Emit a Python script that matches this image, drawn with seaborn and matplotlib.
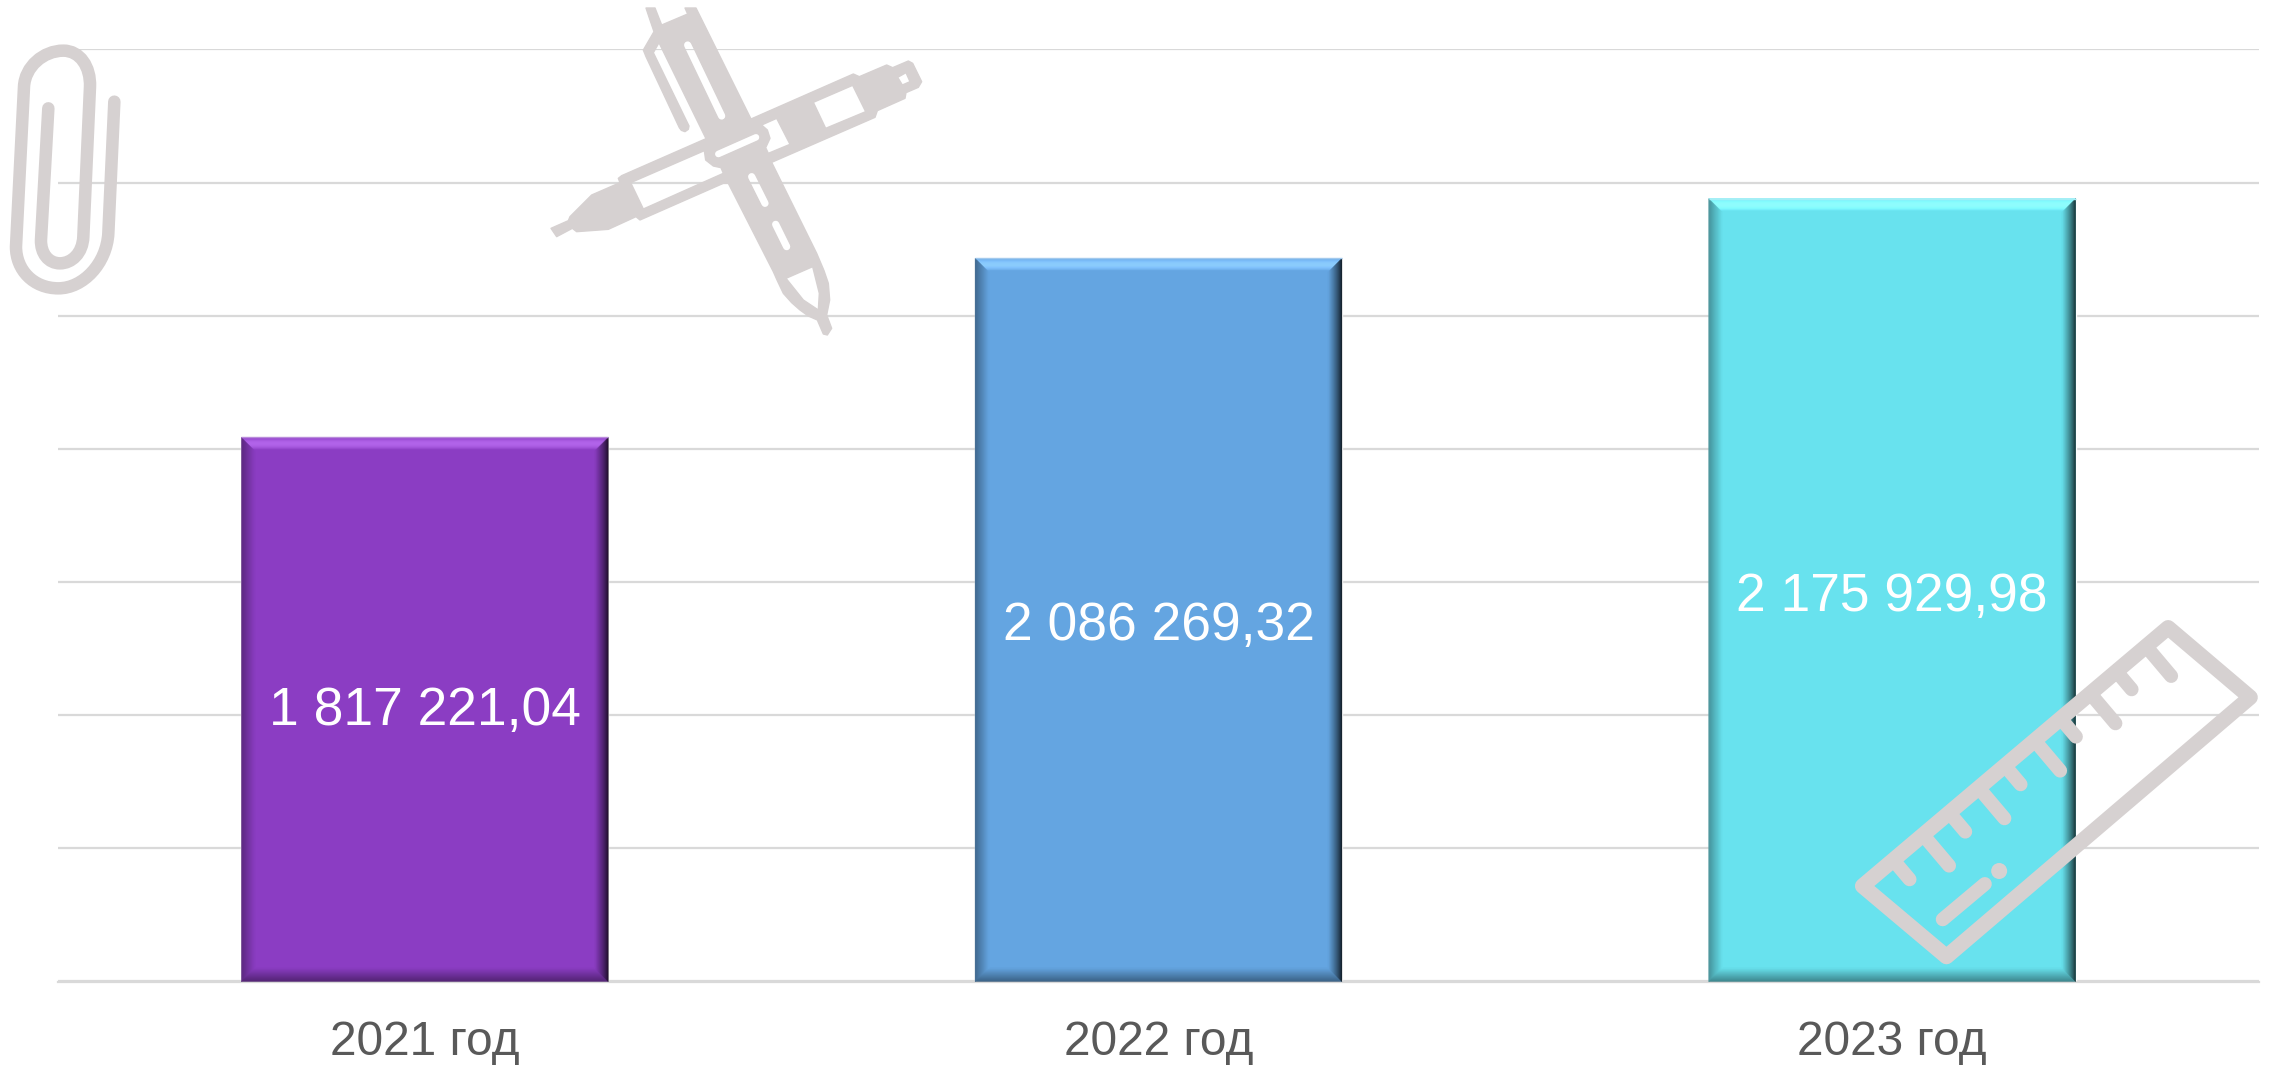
import numpy as np
import pandas as pd
import matplotlib
matplotlib.use("Agg")
import matplotlib.pyplot as plt
from matplotlib.path import Path
from matplotlib.patches import PathPatch, Circle
import seaborn as sns

years = ["2021 год", "2022 год", "2023 год"]
values = [1817221.04, 2086269.32, 2175929.98]
bar_colors = ["#8B3DC3", "#64A5E1", "#68E2EE"]
y_ticks = [1000000, 1200000, 1400000, 1600000, 1800000, 2000000, 2200000, 2400000]

ICON = "#D6D1D1"
GRID = "#D9D9D9"

sns.set_style("white")
plt.rcParams['font.family'] = ['Liberation Sans', 'DejaVu Sans']

df = pd.DataFrame({"year": years, "value": values})

fig = plt.figure(figsize=(22.7, 10.65), dpi=100, facecolor="white")
ax = fig.add_axes([58 / 2270, (1065 - 981.5) / 1065, (2259 - 58) / 2270, 932 / 1065])
sns.barplot(data=df, x="year", y="value", hue="year", palette=bar_colors,
            saturation=1, width=0.5, legend=False, ax=ax, zorder=2)
ax.set_xlim(-0.5, 2.5)
ax.set_ylim(y_ticks[0], y_ticks[-1])
ax.set_yticks(y_ticks)
ax.set_yticklabels([])
ax.set_xlabel("")
ax.set_ylabel("")
ax.grid(axis="y", color=GRID, lw=1.6, zorder=0)
ax.set_axisbelow(True)
sns.despine(ax=ax, left=True, top=True, right=True)
ax.spines["bottom"].set_color(GRID)
ax.spines["bottom"].set_linewidth(1.6)
ax.tick_params(axis="x", length=0, pad=27.5, labelsize=34.5, labelcolor="#595959")
ax.tick_params(axis="y", length=0)

# overlay in image pixels, for the bevels and the stationery icons
ov = fig.add_axes([0, 0, 1, 1], facecolor="none")
ov.set_xlim(0, 2270)
ov.set_ylim(1065, 0)
ov.axis("off")


def shade(base, k):
    return tuple(np.clip(np.array(matplotlib.colors.to_rgb(base)) * k, 0, 1))


def lift(base, d):
    return tuple(np.clip(np.array(matplotlib.colors.to_rgb(base)) + d, 0, 1))


def bevel(bar, base, depth=14):
    (x0, y1), (x1, y0) = ax.transData.transform(
        [(bar.get_x(), max(bar.get_y(), y_ticks[0])),
         (bar.get_x() + bar.get_width(), bar.get_height())])
    y0, y1 = 1065 - y0, 1065 - y1
    for i in range(depth):
        a, b = i, i + 1
        t = (i + 0.5) / depth
        top = 0.17 * np.sin(np.pi * min(t * 1.1, 1))
        left = 0.62 + 0.38 * t
        right = 0.1 + 0.9 * t ** 0.75
        bottom = 0.55 + 0.45 * t
        ov.fill([x0 + a, x1 - a, x1 - b, x0 + b], [y0 + a, y0 + a, y0 + b, y0 + b],
                color=lift(base, top), lw=0.3)
        ov.fill([x0 + a, x1 - a, x1 - b, x0 + b], [y1 - a, y1 - a, y1 - b, y1 - b],
                color=shade(base, bottom), lw=0.3)
        ov.fill([x0 + a, x0 + b, x0 + b, x0 + a], [y0 + a, y0 + b, y1 - b, y1 - a],
                color=shade(base, left), lw=0.3)
        ov.fill([x1 - a, x1 - b, x1 - b, x1 - a], [y0 + a, y0 + b, y1 - b, y1 - a],
                color=shade(base, right), lw=0.3)
    ov.plot([x0, x1], [y0, y0], color=tuple(0.6 * np.array(matplotlib.colors.to_rgb(base)) + 0.4),
            lw=1, solid_capstyle="butt")


for bar, c in zip(ax.patches, bar_colors):
    bevel(bar, c)

# labels sit a little off the bar centres in the original
for i, v in enumerate(values):
    label = f"{v:,.2f}".replace(",", " ").replace(".", ",")
    ax.text(i, y_ticks[0] + 0.476 * (v - y_ticks[0]) + 25400, label, color="white", fontsize=38.4,
            ha="center", va="center_baseline", zorder=5)


# --- icons ---
def capsule(p, q, r, n=8):
    p, q = np.array(p, float), np.array(q, float)
    ang = np.arctan2(*(q - p)[::-1])
    a1 = np.linspace(ang + np.pi / 2, ang + 3 * np.pi / 2, n)
    a2 = np.linspace(ang - np.pi / 2, ang + np.pi / 2, n)
    return np.vstack([p + r * np.c_[np.cos(a1), np.sin(a1)],
                      q + r * np.c_[np.cos(a2), np.sin(a2)]])


def signed_area(p):
    x, y = p[:, 0], p[:, 1]
    return 0.5 * np.sum(x * np.roll(y, -1) - np.roll(x, -1) * y)


def compound(outer, holes):
    verts, codes = [], []
    outer = np.array(outer, float)
    sign = np.sign(signed_area(outer))
    for k, ring in enumerate([outer] + [np.array(h, float) for h in holes]):
        if k > 0 and np.sign(signed_area(ring)) == sign:
            ring = ring[::-1]
        verts += list(ring) + [ring[0]]
        codes += [Path.MOVETO] + [Path.LINETO] * (len(ring) - 1) + [Path.CLOSEPOLY]
    return Path(np.array(verts), codes)


def pen_xy(p):
    return np.array(p, float) / 3 + [540, 0]


pen_outer = [
    (33, 685), (85, 662), (90, 650), (155, 585), (240, 548), (235, 535), (245, 527),
    (498, 416), (357, 128), (340, 158), (447, 378), (445, 388), (435, 395), (424, 391),
    (418, 383), (318, 170), (310, 150), (342, 95), (330, 60), (318, 24), (345, 24), (365, 75),
    (443, 42), (435, 24), (468, 24), (633, 357), (940, 222), (958, 230), (1040, 195),
    (1058, 203), (1105, 183), (1118, 190), (1145, 245), (1135, 262), (1098, 278),
    (1095, 295), (1012, 332), (1005, 352), (695, 487), (830, 760), (852, 812),
    (865, 850), (869, 900), (860, 945), (875, 985), (862, 1005), (850, 1002),
    (832, 960), (805, 948), (780, 930), (755, 908), (730, 880), (712, 842), (700, 815),
    (565, 550), (550, 550),
    (300, 660), (288, 650), (205, 688), (110, 695), (97, 685), (50, 710),
]
pen_holes = [
    [(272, 548), (493, 452), (497, 480), (520, 498), (543, 503), (550, 520), (310, 627)],
    [(665, 375), (710, 355), (750, 433), (685, 460), (677, 443), (690, 415), (682, 390)],
    [(820, 307), (938, 256), (977, 335), (857, 385)],
    [(1073, 232), (1098, 218), (1110, 245), (1087, 255)],
    [(738, 835), (818, 800), (838, 880), (835, 930), (790, 900)],
    capsule((443, 135), (545, 348), 13),
    capsule((635, 530), (675, 610), 13),
    capsule((707, 673), (740, 740), 13),
    capsule((535, 462), (648, 412), 12),
]
ov.add_patch(PathPatch(compound(pen_xy(pen_outer), [pen_xy(h) for h in pen_holes]),
                       fc=ICON, ec=ICON, lw=1, joinstyle="round", zorder=6))


def clip_xy(p):
    return np.array(p, float) / 3 + [0, 30]


clip_pts = [(343, 215), (325, 610), (320, 700), (250, 775), (175, 775), (100, 775), (48, 720),
            (48, 650), (72, 170), (75, 110), (130, 62), (190, 62), (240, 62), (272, 110),
            (270, 170), (250, 620), (248, 670), (215, 700), (180, 700), (145, 700), (122, 670),
            (123, 630), (145, 235)]
clip_codes = [Path.MOVETO, Path.LINETO] + [Path.CURVE4] * 6 + [Path.LINETO] + [Path.CURVE4] * 6 + \
             [Path.LINETO] + [Path.CURVE4] * 6 + [Path.LINETO]
ov.add_patch(PathPatch(Path(clip_xy(clip_pts), clip_codes), fc="none", ec=ICON, lw=9,
                       capstyle="round", joinstyle="round", zorder=6))


def rul_xy(p):
    return np.array(p, float) / [2.657, 3] + [1680, 560]


corners = rul_xy([(485, 978), (1297, 203), (1515, 412), (708, 1190)])
ov.add_patch(plt.Polygon(corners, closed=True, fc="none", ec=ICON, lw=11,
                         joinstyle="round", zorder=6))
tick_ends = rul_xy([(610, 958), (715, 917), (758, 815), (862, 775), (905, 673),
                    (1010, 632), (1052, 530), (1157, 490), (1200, 388), (1305, 348)])
edge = corners[1] - corners[0]
edge = edge / np.linalg.norm(edge)
for e in tick_ends:
    foot = corners[0] + edge * np.dot(e - corners[0], edge)
    ov.plot([foot[0], e[0]], [foot[1], e[1]], color=ICON, lw=10,
            solid_capstyle="round", zorder=6)
mark = rul_xy([(698, 1078), (810, 972)])
ov.plot(mark[:, 0], mark[:, 1], color=ICON, lw=10, solid_capstyle="round", zorder=6)
dot = rul_xy([(848, 933)])[0]
ov.add_patch(Circle(dot, 8, fc=ICON, ec="none", zorder=6))

plt.savefig("out.png", dpi=100)
